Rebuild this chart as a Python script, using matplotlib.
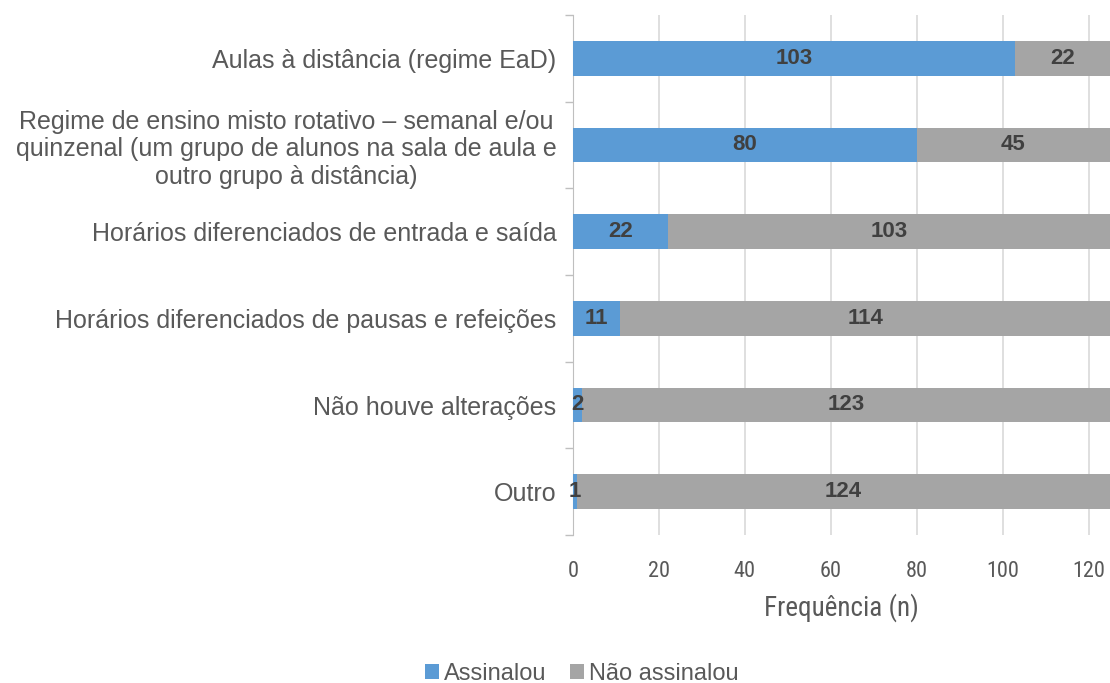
import matplotlib
matplotlib.use("Agg")
import matplotlib.pyplot as plt
from matplotlib.ticker import FixedLocator
from matplotlib import font_manager
import numpy as np

categories = [
    "Aulas à distância (regime EaD)",
    "Regime de ensino misto rotativo – semanal e/ou\nquinzenal (um grupo de alunos na sala de aula e\noutro grupo à distância)",
    "Horários diferenciados de entrada e saída",
    "Horários diferenciados de pausas e refeições",
    "Não houve alterações",
    "Outro",
]
assinalou = [103, 80, 22, 11, 2, 1]
nao_assinalou = [22, 45, 103, 114, 123, 124]
series_names = ["Assinalou", "Não assinalou"]
x_ticks = [0, 20, 40, 60, 80, 100, 120]

blue = "#5B9BD5"
gray = "#A5A5A5"
txt = "#595959"

names = {f.name for f in font_manager.fontManager.ttflist}
narrow = None
for cand in ["Liberation Sans Narrow", "DejaVu Sans Condensed", "Roboto Condensed", "Open Sans Condensed"]:
    if cand in names:
        narrow = cand
        break
narrow_kw = {"family": narrow} if narrow else {"family": "Roboto"}

fig = plt.figure(figsize=(11.10, 6.83), dpi=100)
ax = fig.add_axes([573/1110, 1-535/683, 1-573/1110, (535-15)/683])

y = np.arange(len(categories))
h = 0.4
b1 = ax.barh(y, assinalou, height=h, color=blue, label=series_names[0], zorder=3)
b2 = ax.barh(y, nao_assinalou, left=assinalou, height=h, color=gray, label=series_names[1], zorder=3)

for vals, lefts in ((assinalou, [0]*len(assinalou)), (nao_assinalou, assinalou)):
    for yi, v, l in zip(y, vals, lefts):
        ax.text(l + v/2, yi, str(v), ha="center", va="center", fontsize=16,
                fontweight="bold", color="#404040", family="Liberation Sans", zorder=4)

ax.set_xlim(0, 125)
ax.set_ylim(len(categories)-0.5, -0.5)
ax.set_xticks(x_ticks)
ax.set_xticklabels([str(t) for t in x_ticks], fontsize=16, color=txt, **narrow_kw)
ax.tick_params(axis="x", length=0, pad=19)
ax.xaxis.grid(True, color="#D9D9D9", linewidth=1.2, zorder=0)

ax.set_yticks(y)
ax.set_yticklabels(categories, fontsize=18, color=txt, family="Liberation Sans")
for t in ax.get_yticklabels():
    t.set_multialignment("center")
ax.tick_params(axis="y", which="major", length=0, pad=12)
ax.yaxis.set_minor_locator(FixedLocator(np.arange(-0.5, len(categories), 1.0)))
ax.tick_params(axis="y", which="minor", length=6, color="#BFBFBF", width=1)

for s in ("top", "right", "bottom"):
    ax.spines[s].set_visible(False)
ax.spines["left"].set_color("#BFBFBF")

ax.set_xlabel("Frequência (n)", fontsize=19.5, color=txt, labelpad=8, **narrow_kw)

fig.legend(handles=[b1, b2], labels=series_names, loc="center", bbox_to_anchor=(0.524, 1-674/683),
           ncol=2, frameon=False, handlelength=0.6, handleheight=0.6,
           handletextpad=0.2, columnspacing=1.0, labelcolor=txt,
           prop={"family": "Liberation Sans", "size": 17})

fig.savefig("out.png", dpi=100)
